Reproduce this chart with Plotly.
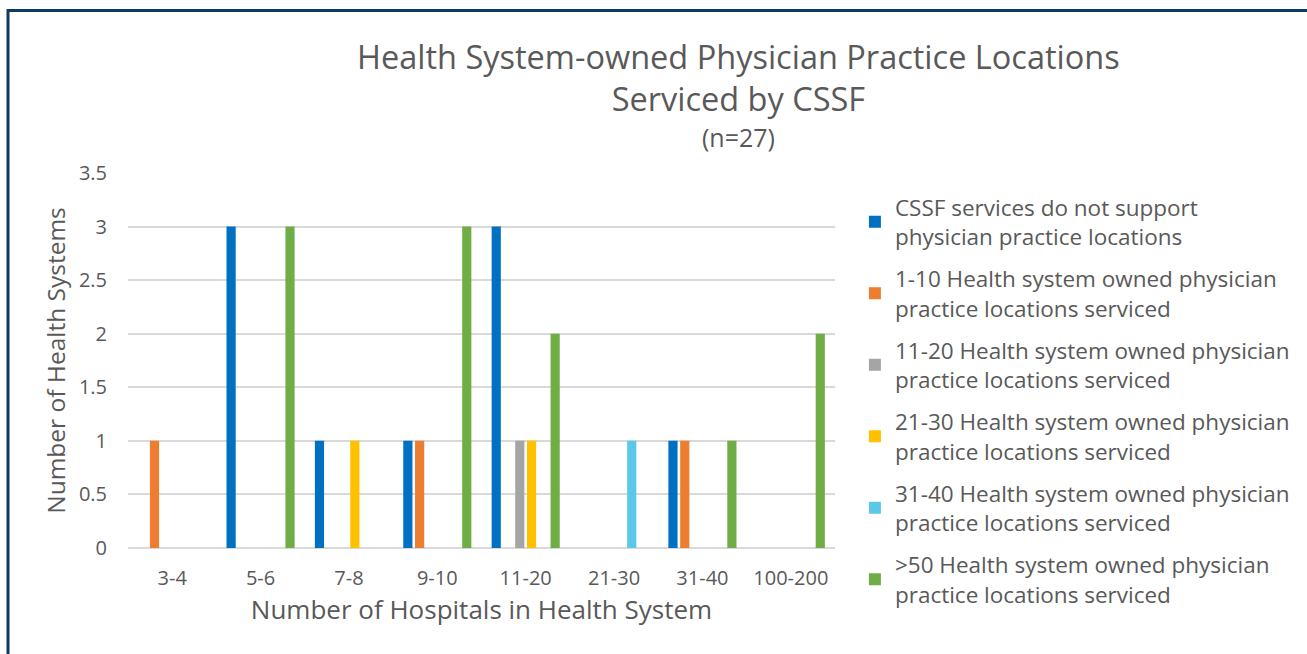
import plotly.graph_objects as go

categories = ["3-4", "5-6", "7-8", "9-10", "11-20", "21-30", "31-40", "100-200"]

series_names = [
    "CSSF services do not support<br>physician practice locations",
    "1-10 Health system owned physician<br>practice locations serviced",
    "11-20 Health system owned physician<br>practice locations serviced",
    "21-30 Health system owned physician<br>practice locations serviced",
    "31-40 Health system owned physician<br>practice locations serviced",
    ">50 Health system owned physician<br>practice locations serviced",
]

not_supported = [0, 3, 1, 1, 3, 0, 1, 0]
loc_1_10 = [1, 0, 0, 1, 0, 0, 1, 0]
loc_11_20 = [0, 0, 0, 0, 1, 0, 0, 0]
loc_21_30 = [0, 0, 1, 0, 1, 0, 0, 0]
loc_31_40 = [0, 0, 0, 0, 0, 1, 0, 0]
loc_over_50 = [0, 3, 0, 3, 2, 0, 1, 2]

series_values = [not_supported, loc_1_10, loc_11_20, loc_21_30, loc_31_40, loc_over_50]
colors = ["#0070C0", "#ED7D31", "#A5A5A5", "#FFC000", "#5BC8E8", "#70AD47"]

font_family = "'Open Sans', sans-serif"
text_color = "#595959"

W, H = 1307, 654
L, R, T, B = 128, 838, 173, 548
pw, ph = R - L, B - T


def px_x(x):
    return (x - L) / pw


def px_y(y):
    return (B - y) / ph


fig = go.Figure()
for i, (name, vals, col) in enumerate(zip(series_names, series_values, colors)):
    fig.add_trace(
        go.Bar(
            x=categories,
            y=vals,
            name=name,
            marker=dict(color=col, line=dict(width=0)),
            legendgroup=f"g{i}",
        )
    )

title_parts = [
    ("Health System-owned Physician Practice Locations<br>Serviced by CSSF", 78, 32.5),
    ("(n=27)", 137, 25),
]
annotations = [
    dict(
        text=t,
        x=px_x(741),
        xref="paper",
        y=px_y(yc),
        yref="paper",
        xanchor="center",
        yanchor="middle",
        showarrow=False,
        font=dict(size=s, color=text_color, family=font_family),
    )
    for t, yc, s in title_parts
]

fig.update_layout(
    width=W,
    height=H,
    margin=dict(l=L, r=W - R, t=T, b=H - B),
    paper_bgcolor="white",
    plot_bgcolor="white",
    font=dict(family=font_family, color=text_color),
    barmode="group",
    bargap=0.2,
    bargroupgap=0.22,
    annotations=annotations,
    xaxis=dict(
        showgrid=False,
        zeroline=False,
        showline=False,
        ticks="",
        ticklabelstandoff=16,
        tickfont=dict(size=20, color=text_color),
        title=dict(
            text="Number of Hospitals in Health System",
            font=dict(size=26, color=text_color),
            standoff=10,
        ),
    ),
    yaxis=dict(
        range=[0, 3.5],
        dtick=0.5,
        showgrid=True,
        gridcolor="#D9D9D9",
        gridwidth=1.5,
        zeroline=True,
        zerolinecolor="#D9D9D9",
        zerolinewidth=1.5,
        ticks="",
        ticklabelstandoff=20,
        tickfont=dict(size=20, color=text_color),
        title=dict(
            text="Number of Health Systems",
            font=dict(size=24.5, color=text_color),
            standoff=6,
        ),
    ),
    legend=dict(
        x=px_x(858),
        y=px_y(186),
        xanchor="left",
        yanchor="top",
        font=dict(size=22.5, color=text_color, family=font_family),
        tracegroupgap=10,
        itemwidth=30,
        maxheight=620,
        bgcolor="rgba(0,0,0,0)",
    ),
    shapes=[
        dict(
            type="rect",
            xref="paper",
            yref="paper",
            x0=px_x(7.5),
            x1=px_x(1330),
            y0=px_y(680),
            y1=px_y(10.5),
            line=dict(color="#0D3B63", width=3),
            fillcolor="rgba(0,0,0,0)",
            layer="below",
        )
    ],
)

fig.write_html(
    "out.html",
    config={"displayModeBar": False},
    post_script="document.body.style.margin='0';document.body.style.overflow='hidden';",
)
